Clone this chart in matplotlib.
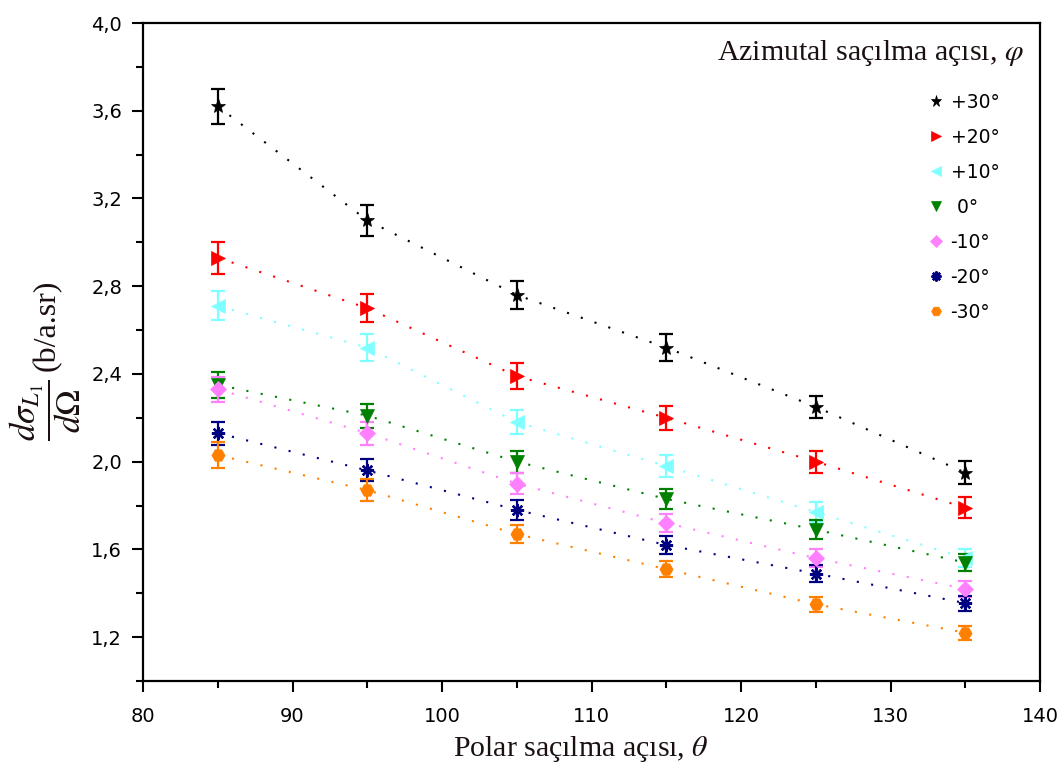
import numpy as np
import matplotlib
matplotlib.use("Agg")
import matplotlib.pyplot as plt
from matplotlib.lines import Line2D
from matplotlib.ticker import MultipleLocator, FuncFormatter

plt.rcParams['mathtext.fontset'] = 'stix'

# Polar scattering angles (degrees)
theta = [85, 95, 105, 115, 125, 135]

# Azimuthal angle labels
labels = ["+30°", "+20°", "+10°", " 0°", "-10°", "-20°", "-30°"]

# Differential cross sections (b/a.sr) for each azimuthal angle
y_p30 = [3.62, 3.10, 2.76, 2.52, 2.25, 1.95]
y_p20 = [2.93, 2.70, 2.39, 2.20, 2.00, 1.79]
y_p10 = [2.71, 2.52, 2.18, 1.98, 1.77, 1.56]
y_0 = [2.35, 2.21, 2.00, 1.83, 1.69, 1.54]
y_m10 = [2.33, 2.13, 1.90, 1.72, 1.56, 1.42]
y_m20 = [2.13, 1.96, 1.78, 1.62, 1.49, 1.355]
y_m30 = [2.03, 1.87, 1.67, 1.51, 1.35, 1.22]

# Uncertainties
e_p30 = [0.080, 0.070, 0.065, 0.060, 0.050, 0.052]
e_p20 = [0.073, 0.065, 0.060, 0.055, 0.050, 0.048]
e_p10 = [0.066, 0.062, 0.055, 0.050, 0.045, 0.040]
e_0 = [0.060, 0.055, 0.050, 0.045, 0.042, 0.040]
e_m10 = [0.058, 0.053, 0.048, 0.043, 0.040, 0.036]
e_m20 = [0.053, 0.050, 0.045, 0.040, 0.038, 0.034]
e_m30 = [0.060, 0.050, 0.042, 0.038, 0.034, 0.031]

series = [y_p30, y_p20, y_p10, y_0, y_m10, y_m20, y_m30]
errors = [e_p30, e_p20, e_p10, e_0, e_m10, e_m20, e_m30]
colors = ["#000000", "#FF0000", "#7FFFFF", "#008000", "#FF80FF", "#000080", "#FF8000"]
markers = ["*", ">", "<", "v", "D", (8, 2, 0), "H"]
msizes = [11, 9.5, 9.5, 9.5, 8, 9.5, 9.5]

W, H = 1062, 772
fig = plt.figure(figsize=(W / 100, H / 100), dpi=100)
ax = fig.add_axes([0.1347, 0.1179, 0.8446, 0.8523])

x = np.array(theta, dtype=float)
handles = []
for ys, es, c, m, s, lab in zip(series, errors, colors, markers, msizes, labels):
    ys = np.array(ys)
    # dotted guide line through the measured points
    ax.plot(x, ys, linestyle=(0, (1, 6)), color=c, lw=1.5, zorder=1)
    mew = 1.7 if isinstance(m, tuple) else 0.5
    ax.errorbar(x, ys, yerr=es, fmt='none', ecolor=c, elinewidth=1.6,
                capsize=5, capthick=1.6, zorder=2)
    ax.plot(x, ys, linestyle='none', marker=m, markersize=s, color=c,
            markeredgecolor=c, markeredgewidth=mew, zorder=3)
    handles.append(Line2D([], [], linestyle='none', marker=m, markersize=s * 0.75,
                          color=c, markeredgecolor=c, markeredgewidth=mew, label=lab))

ax.set_xlim(80, 140)
ax.set_ylim(1.0, 4.0)
ax.xaxis.set_major_locator(MultipleLocator(10))
ax.xaxis.set_minor_locator(MultipleLocator(5))
ax.yaxis.set_major_locator(MultipleLocator(0.4))
ax.yaxis.set_minor_locator(MultipleLocator(0.2))
ax.yaxis.set_major_formatter(FuncFormatter(lambda v, p: f"{v:.1f}".replace(".", ",")))

ax.tick_params(which='major', direction='out', length=8, width=1.5,
               labelsize=14, top=False, right=False)
ax.tick_params(axis='x', which='major', pad=11)
ax.tick_params(axis='y', which='major', pad=7)
ax.tick_params(which='minor', direction='out', length=5, width=1.5,
               top=False, right=False)
for sp in ax.spines.values():
    sp.set_linewidth(1.6)

serif_color = "#1a1010"
ax.set_xlabel(r"Polar saçılma açısı, $\theta$", fontfamily="Liberation Serif",
              fontsize=21.5, color=serif_color)
ax.xaxis.set_label_coords(0.488, -0.103, transform=ax.transAxes)
ax.xaxis.label.set_va('center')

# y-axis label: the derivative as a fraction followed by the unit
fig.text(45 / W, 1 - 410 / H, r"$\dfrac{d\sigma_{L_1}}{d\Omega}$", rotation=90,
         ha='center', va='center', fontsize=25, color=serif_color)
fig.text(47 / W, 1 - 325 / H, "(b/a.sr)", rotation=90, ha='center', va='center',
         fontfamily="Liberation Serif", fontsize=23, color=serif_color)

ax.text(0.982, 0.955, r"Azimutal saçılma açısı, $\varphi$", transform=ax.transAxes,
        ha='right', va='center', fontfamily="Liberation Serif", fontsize=21.5,
        color=serif_color)

leg = ax.legend(handles=handles, loc='upper right', bbox_to_anchor=(0.963, 0.905),
                frameon=False, fontsize=13.5, handlelength=0.8, handletextpad=0.4,
                labelspacing=0.85, borderaxespad=0)

fig.savefig("out.png", dpi=100)
